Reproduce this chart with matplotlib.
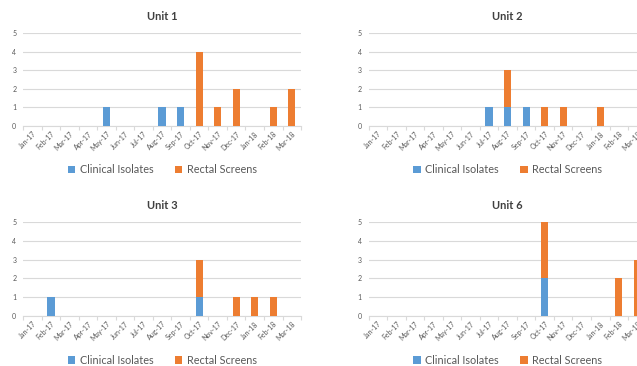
import matplotlib
matplotlib.use("Agg")
import matplotlib.pyplot as plt
import numpy as np
from matplotlib.ticker import FixedLocator

plt.rcParams['font.family'] = ['Lato', 'DejaVu Sans']

months = ["Jan-17", "Feb-17", "Mar-17", "Apr-17", "May-17", "Jun-17", "Jul-17",
          "Aug-17", "Sep-17", "Oct-17", "Nov-17", "Dec-17", "Jan-18", "Feb-18", "Mar-18"]

unit1_clinical = [0, 0, 0, 0, 1, 0, 0, 1, 1, 0, 0, 0, 0, 0, 0]
unit1_rectal   = [0, 0, 0, 0, 0, 0, 0, 0, 0, 4, 1, 2, 0, 1, 2]
unit2_clinical = [0, 0, 0, 0, 0, 0, 1, 1, 1, 0, 0, 0, 0, 0, 0]
unit2_rectal   = [0, 0, 0, 0, 0, 0, 0, 2, 0, 1, 1, 0, 1, 0, 0]
unit3_clinical = [0, 1, 0, 0, 0, 0, 0, 0, 0, 1, 0, 0, 0, 0, 0]
unit3_rectal   = [0, 0, 0, 0, 0, 0, 0, 0, 0, 2, 0, 1, 1, 1, 0]
unit6_clinical = [0, 0, 0, 0, 0, 0, 0, 0, 0, 2, 0, 0, 0, 0, 0]
unit6_rectal   = [0, 0, 0, 0, 0, 0, 0, 0, 0, 3, 0, 0, 0, 2, 3]

titles = ["Unit 1", "Unit 2", "Unit 3", "Unit 6"]
series = [(unit1_clinical, unit1_rectal), (unit2_clinical, unit2_rectal),
          (unit3_clinical, unit3_rectal), (unit6_clinical, unit6_rectal)]

BLUE = "#5B9BD5"
ORANGE = "#ED7D31"
GRID = "#D9D9D9"
TXT = "#595959"

fig = plt.figure(figsize=(6.37, 3.66), dpi=100)

positions = [
    [0.0366, 0.6557, 0.436, 0.254],
    [0.579, 0.6557, 0.436, 0.254],
    [0.0366, 0.1366, 0.436, 0.2568],
    [0.579, 0.1366, 0.436, 0.2568],
]

x = np.arange(len(months))
for pos, title, (clin, rect) in zip(positions, titles, series):
    ax = fig.add_axes(pos)
    clin = np.array(clin)
    rect = np.array(rect)
    ax.bar(x, clin, width=0.4, color=BLUE, label="Clinical Isolates", zorder=3)
    ax.bar(x, rect, width=0.4, bottom=clin, color=ORANGE, label="Rectal Screens", zorder=3)
    ax.set_xlim(-0.5, len(months) - 0.5)
    ax.set_ylim(0, 5)
    ax.set_yticks(range(6))
    ax.yaxis.grid(True, color=GRID, linewidth=0.8, zorder=0)
    ax.set_axisbelow(True)
    for s in ["top", "right", "left"]:
        ax.spines[s].set_visible(False)
    ax.spines["bottom"].set_color(GRID)
    ax.spines["bottom"].set_linewidth(0.8)
    ax.set_xticks(x)
    ax.set_xticklabels(months, rotation=45, ha="right", rotation_mode="anchor",
                       fontsize=5, color=TXT)
    ax.xaxis.set_minor_locator(FixedLocator(np.arange(-0.5, len(months), 1.0)))
    ax.tick_params(axis="x", which="major", length=0, pad=3)
    ax.tick_params(axis="x", which="minor", length=3, color=GRID, width=0.8)
    ax.tick_params(axis="y", length=0, labelsize=5, labelcolor=TXT, pad=5)
    ax.text(0.5, 1.18, title, transform=ax.transAxes, ha="center", va="center",
            fontsize=8, fontweight="bold", color="#404040")
    leg = ax.legend(loc="center", bbox_to_anchor=(0.5, -0.47), ncol=2, frameon=False,
                    fontsize=7.8, handlelength=0.7, handleheight=0.7,
                    handletextpad=0.4, columnspacing=2.0)
    for t in leg.get_texts():
        t.set_color(TXT)

fig.savefig("out.png", dpi=100, facecolor="white")
